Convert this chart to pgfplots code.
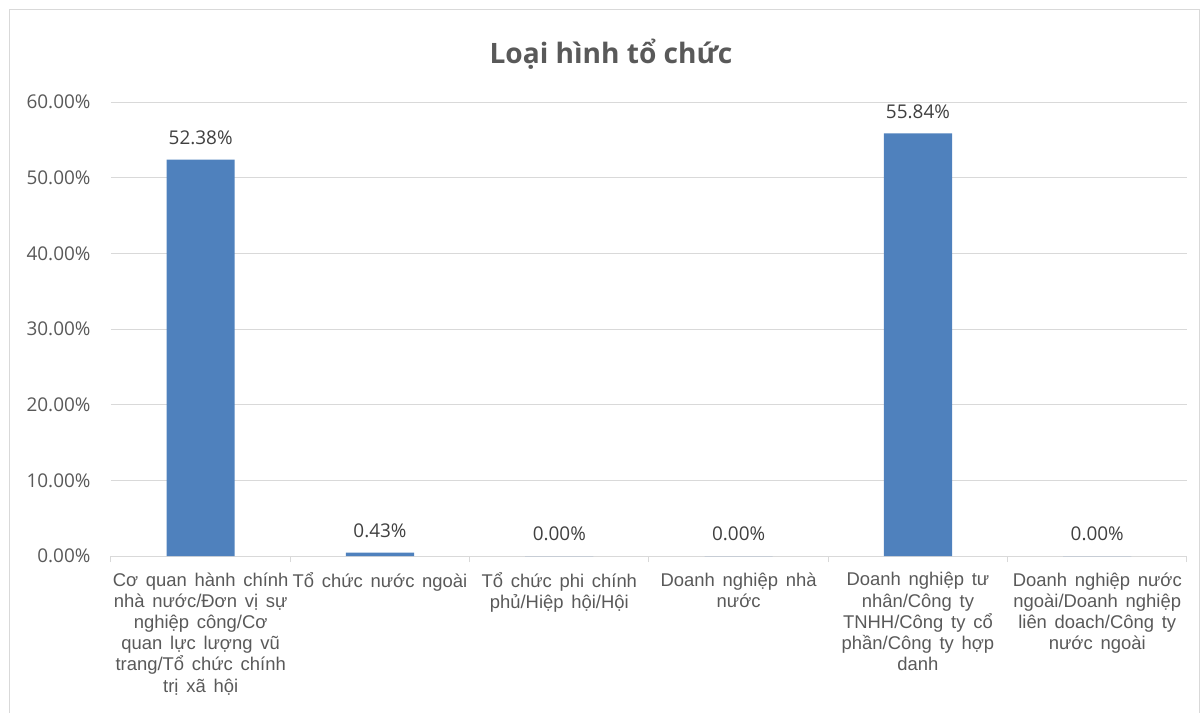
\documentclass[border=0pt]{standalone}
\usepackage{pgfplots}
\pgfplotsset{compat=1.18}
\usepackage{fontspec}
\setmainfont{Liberation Sans}
\newfontfamily\segfont{Open Sans}
\newcommand\catfont{\fontsize{18.5}{21.3}\selectfont\spaceskip=0.42em plus 0.1em\relax}
\definecolor{barblue}{HTML}{4F81BD}
\definecolor{gridgray}{HTML}{D9D9D9}
\definecolor{txtgray}{HTML}{595959}
\definecolor{lblgray}{HTML}{404040}
\begin{document}
\begin{tikzpicture}
\useasboundingbox (-111bp,-157bp) rectangle (1090bp,556bp);
\draw[gridgray, line width=1bp] (-101bp,-170bp) rectangle (1088bp,546bp);
\begin{axis}[
  at={(0,0)}, anchor=south west,
  scale only axis, width=1076bp, height=454bp,
  xmin=-0.5, xmax=5.5, ymin=0, ymax=60,
  ytick={0,10,...,60},
  xtick={0,...,5},
  xticklabels={
    {Cơ quan hành chính\\nhà nước/Đơn vị sự\\nghiệp công/Cơ\\quan lực lượng vũ\\trang/Tổ chức chính\\trị xã hội},
    {Tổ chức nước ngoài},
    {Tổ chức phi chính\\phủ/Hiệp hội/Hội},
    {Doanh nghiệp nhà\\nước},
    {Doanh nghiệp tư\\nhân/Công ty\\TNHH/Công ty cổ\\phần/Công ty hợp\\danh},
    {Doanh nghiệp nước\\ngoài/Doanh nghiệp\\liên doach/Công ty\\nước ngoài}},
  minor xtick={-0.5,0.5,...,5.5},
  major tick length=0pt, minor tick length=6bp,
  tick align=outside,
  xtick style={draw=gridgray, line width=1bp},
  axis x line*=bottom, axis y line*=left,
  x axis line style={draw=gridgray, line width=1bp, -},
  y axis line style={draw=none},
  ymajorgrids, grid style={draw=gridgray, line width=1bp},
  /pgf/number format/assume math mode=true,
  yticklabel={\pgfmathprintnumber[fixed,fixed zerofill,precision=2]{\tick}\%},
  yticklabel style={font=\segfont\fontsize{19}{23}\selectfont, text=txtgray, xshift=-17bp},
  xticklabel style={font=\catfont, text=txtgray, align=center, yshift=-13bp},
  ybar, bar width=0.38,
  nodes near coords={\pgfmathprintnumber[fixed,fixed zerofill,precision=2]{\pgfplotspointmeta}\%},
  every node near coord/.append style={font=\segfont\fontsize{19}{23}\selectfont, text=lblgray, anchor=center, yshift=22bp},
]
\addplot[fill=barblue, draw=none] coordinates {(0,52.38) (1,0.43) (2,0) (3,0) (4,55.84) (5,0)};
\end{axis}
\node[font=\segfont\bfseries\fontsize{28.2}{34}\selectfont, text=txtgray] at (500bp,502bp) {Loại hình tổ chức};
\end{tikzpicture}
\end{document}
